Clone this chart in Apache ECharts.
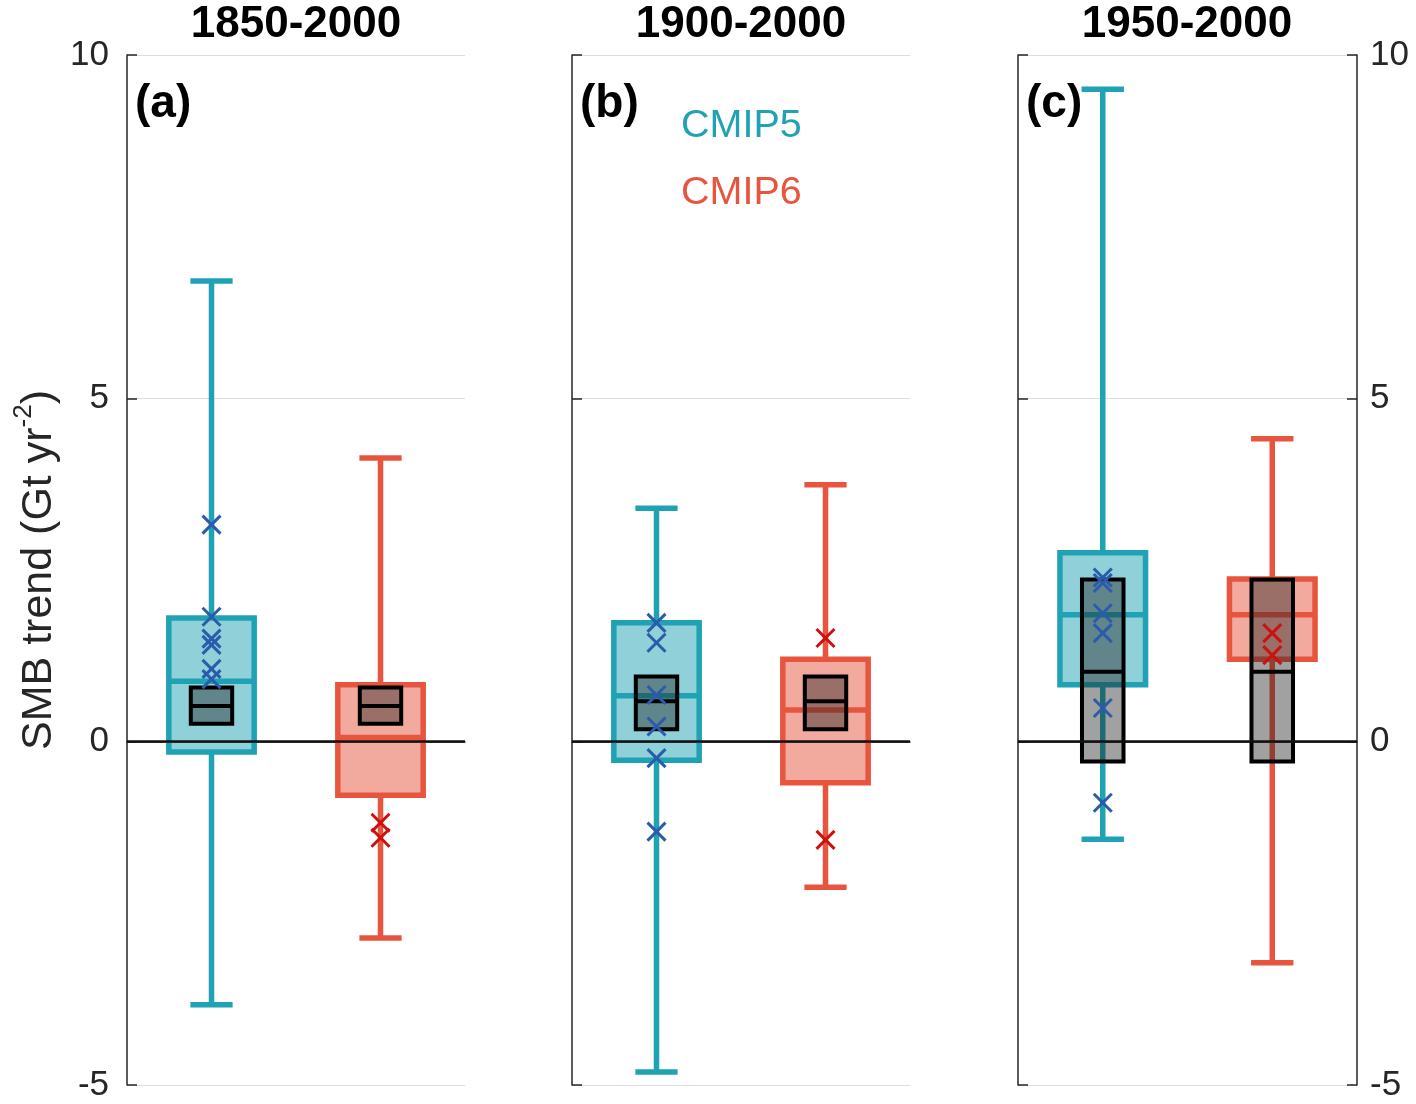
<!DOCTYPE html>
<html>
<head>
<meta charset="utf-8">
<script src="https://cdn.jsdelivr.net/npm/echarts@6/dist/echarts.min.js"></script>
<style>
html,body{margin:0;padding:0;background:#fff;}
#chart{width:1416px;height:1104px;}
</style>
</head>
<body>
<div id="chart"></div>
<script>
// ---------------- data ----------------
const periods = ['1850-2000', '1900-2000', '1950-2000'];
const panelTags = ['(a)', '(b)', '(c)'];
const groups = ['CMIP5', 'CMIP6'];
const yTicks = [-5, 0, 5, 10];

const cmip5Low    = [-3.83, -4.81, -1.42];
const cmip5Q1     = [-0.15, -0.27, 0.83];
const cmip5Median = [0.88, 0.67, 1.85];
const cmip5Q3     = [1.80, 1.73, 2.75];
const cmip5High   = [6.71, 3.40, 9.50];

const cmip6Low    = [-2.86, -2.12, -3.22];
const cmip6Q1     = [-0.78, -0.60, 1.20];
const cmip6Median = [0.06, 0.46, 1.85];
const cmip6Q3     = [0.83, 1.20, 2.37];
const cmip6High   = [4.13, 3.74, 4.41];

const obsQ1     = [0.26, 0.18, -0.29];
const obsMedian = [0.52, 0.59, 1.02];
const obsQ3     = [0.79, 0.95, 2.36];

const cmip5Members = [
  [3.16, 1.82, 1.50, 1.41, 1.06, 0.91],
  [1.73, 1.44, 0.68, 0.22, -0.24, -1.31],
  [2.39, 2.31, 1.87, 1.58, 0.49, -0.89]
];
const cmip6Members = [
  [-1.18, -1.40],
  [1.51, -1.43],
  [1.58, 1.26]
];

// ---------------- style ----------------
const FONT = '"Liberation Sans", Arial, Helvetica, sans-serif';
const C5 = '#1fa2b4', C5F = 'rgba(31,162,180,0.5)';
const C6 = '#e8553e', C6F = 'rgba(232,85,62,0.5)';
const X5 = '#2b5cab', X6 = '#cc1111';
const OBSF = 'rgba(30,30,30,0.42)';
const AXC = '#262626';

const gridLefts = [127, 572, 1018];
const gridW = 338;
const gridTop = 55, gridH = 1030;

function boxRender(color, fill) {
  return function (params, api) {
    const x = api.value(0);
    const cx = api.coord([x, 0])[0];
    const y = v => api.coord([x, v])[1];
    const band = api.size([1, 0])[0];
    const bw = band * 0.505, cw = band * 0.25;
    const lw = 5.5;
    const low = y(api.value(1)), q1 = y(api.value(2)), med = y(api.value(3)),
          q3 = y(api.value(4)), high = y(api.value(5));
    const ls = {stroke: color, lineWidth: lw, lineCap: 'butt'};
    return {
      type: 'group',
      children: [
        {type: 'line', shape: {x1: cx, y1: q3, x2: cx, y2: high}, style: ls},
        {type: 'line', shape: {x1: cx, y1: q1, x2: cx, y2: low}, style: ls},
        {type: 'line', shape: {x1: cx - cw / 2, y1: high, x2: cx + cw / 2, y2: high}, style: ls},
        {type: 'line', shape: {x1: cx - cw / 2, y1: low, x2: cx + cw / 2, y2: low}, style: ls},
        {type: 'rect', shape: {x: cx - bw / 2, y: q3, width: bw, height: q1 - q3},
         style: {fill: fill, stroke: color, lineWidth: lw}},
        {type: 'line', shape: {x1: cx - bw / 2, y1: med, x2: cx + bw / 2, y2: med}, style: ls}
      ]
    };
  };
}

function obsRender(params, api) {
  const x = api.value(0);
  const cx = api.coord([x, 0])[0];
  const y = v => api.coord([x, v])[1];
  const band = api.size([1, 0])[0];
  const bw = band * 0.245;
  const q1 = y(api.value(1)), med = y(api.value(2)), q3 = y(api.value(3));
  return {
    type: 'group',
    children: [
      {type: 'rect', shape: {x: cx - bw / 2, y: q3, width: bw, height: q1 - q3},
       style: {fill: OBSF, stroke: '#000', lineWidth: 4}},
      {type: 'line', shape: {x1: cx - bw / 2, y1: med, x2: cx + bw / 2, y2: med},
       style: {stroke: '#000', lineWidth: 4}}
    ]
  };
}

function crossRender(color) {
  return function (params, api) {
    const p = api.coord([api.value(0), api.value(1)]);
    const s = 9;
    const st = {stroke: color, lineWidth: 3};
    return {
      type: 'group',
      children: [
        {type: 'line', shape: {x1: p[0] - s, y1: p[1] - s, x2: p[0] + s, y2: p[1] + s}, style: st},
        {type: 'line', shape: {x1: p[0] - s, y1: p[1] + s, x2: p[0] + s, y2: p[1] - s}, style: st}
      ]
    };
  };
}

const grids = [], xAxes = [], yAxes = [], series = [], graphics = [];

periods.forEach((per, i) => {
  grids.push({left: gridLefts[i], top: gridTop, width: gridW + (i === 2 ? 1 : 0), height: gridH});
  xAxes.push({
    type: 'category', gridIndex: i, data: groups, boundaryGap: true,
    axisLine: {show: true, lineStyle: {color: AXC, width: 1.5}},
    axisTick: {show: false}, axisLabel: {show: false}, splitLine: {show: false}
  });
  const yBase = {
    type: 'value', gridIndex: i, min: -5, max: 10, interval: 5,
    axisLine: {show: true, onZero: false, lineStyle: {color: AXC, width: 1.5}},
    axisTick: {show: true, inside: true, length: 10, lineStyle: {color: AXC, width: 1.5}},
    axisLabel: {show: i === 0, fontSize: 35, color: AXC, fontFamily: FONT, margin: 18},
    splitLine: {show: true, lineStyle: {color: '#dedede', width: 1}}
  };
  if (i === 0) {
    yBase.name = '{b|SMB trend (Gt yr}{s|-2}{b|)}';
    yBase.nameLocation = 'middle';
    yBase.nameGap = 66;
    yBase.nameRotate = 90;
    yBase.nameTextStyle = {
      rich: {
        b: {fontSize: 43, color: AXC, fontFamily: FONT, lineHeight: 50, verticalAlign: 'bottom'},
        s: {fontSize: 26, color: AXC, fontFamily: FONT, lineHeight: 50, verticalAlign: 'top'}
      }
    };
  }
  yAxes.push(yBase);
});
// right axis for panel (c)
yAxes.push({
  type: 'value', gridIndex: 2, position: 'right', min: -5, max: 10, interval: 5,
  axisLine: {show: true, onZero: false, lineStyle: {color: AXC, width: 1.5}},
  axisTick: {show: true, inside: true, length: 10, lineStyle: {color: AXC, width: 1.5}},
  axisLabel: {show: true, fontSize: 35, color: AXC, fontFamily: FONT, margin: 13},
  splitLine: {show: false}
});

periods.forEach((per, i) => {
  // zero line
  series.push({
    type: 'line', xAxisIndex: i, yAxisIndex: i, data: [], z: 1, silent: true,
    markLine: {
      silent: true, symbol: 'none', animation: false,
      label: {show: false},
      lineStyle: {color: '#111', width: 2.5, type: 'solid'},
      data: [{yAxis: 0}]
    }
  });
  series.push({
    type: 'custom', xAxisIndex: i, yAxisIndex: i, z: 2,
    renderItem: boxRender(C5, C5F),
    encode: {x: 0, y: [1, 2, 3, 4, 5]},
    data: [[0, cmip5Low[i], cmip5Q1[i], cmip5Median[i], cmip5Q3[i], cmip5High[i]]]
  });
  series.push({
    type: 'custom', xAxisIndex: i, yAxisIndex: i, z: 2,
    renderItem: boxRender(C6, C6F),
    encode: {x: 0, y: [1, 2, 3, 4, 5]},
    data: [[1, cmip6Low[i], cmip6Q1[i], cmip6Median[i], cmip6Q3[i], cmip6High[i]]]
  });
  series.push({
    type: 'custom', xAxisIndex: i, yAxisIndex: i, z: 3,
    renderItem: obsRender,
    encode: {x: 0, y: [1, 2, 3]},
    data: [[0, obsQ1[i], obsMedian[i], obsQ3[i]], [1, obsQ1[i], obsMedian[i], obsQ3[i]]]
  });
  series.push({
    type: 'custom', xAxisIndex: i, yAxisIndex: i, z: 4,
    renderItem: crossRender(X5),
    encode: {x: 0, y: 1},
    data: cmip5Members[i].map(v => [0, v])
  });
  series.push({
    type: 'custom', xAxisIndex: i, yAxisIndex: i, z: 4,
    renderItem: crossRender(X6),
    encode: {x: 0, y: 1},
    data: cmip6Members[i].map(v => [1, v])
  });

  graphics.push({
    type: 'text', x: gridLefts[i] + gridW / 2, y: 25,
    style: {text: per, font: 'bold 44px ' + FONT, fill: '#000', textAlign: 'center', textVerticalAlign: 'middle'}
  });
  graphics.push({
    type: 'text', x: gridLefts[i] + 8, y: 104,
    style: {text: panelTags[i], font: 'bold 46px ' + FONT, fill: '#000', textAlign: 'left', textVerticalAlign: 'middle'}
  });
});

graphics.push({
  type: 'text', x: 681, y: 126,
  style: {text: groups[0], font: '39.5px ' + FONT, fill: C5, textAlign: 'left', textVerticalAlign: 'middle'}
});
graphics.push({
  type: 'text', x: 681, y: 193,
  style: {text: groups[1], font: '39.5px ' + FONT, fill: C6, textAlign: 'left', textVerticalAlign: 'middle'}
});

const chart = echarts.init(document.getElementById('chart'), null, {renderer: 'canvas'});
chart.setOption({
  animation: false,
  backgroundColor: '#fff',
  grid: grids,
  xAxis: xAxes,
  yAxis: yAxes,
  series: series,
  graphic: graphics
});
</script>
</body>
</html>
